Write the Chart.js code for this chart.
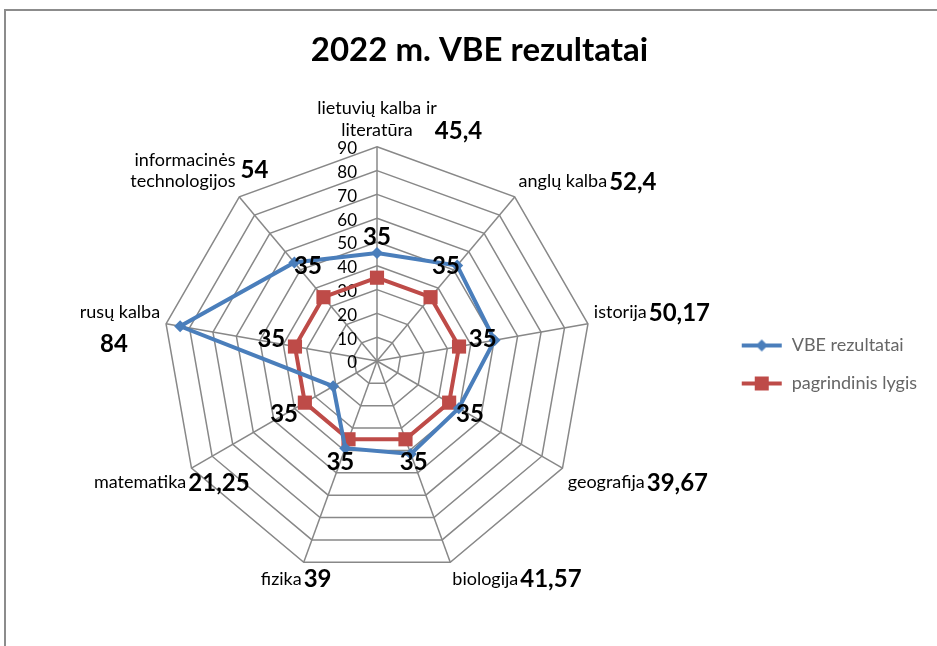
<!DOCTYPE html>
<html>
<head>
<meta charset="utf-8">
<script src="https://cdn.jsdelivr.net/npm/chart.js@4/dist/chart.umd.min.js"></script>
<style>
  html, body { margin: 0; padding: 0; background: #fff; overflow: hidden; }
  #wrap { position: relative; width: 937px; height: 646px; }
  #frame { position: absolute; left: 4px; top: 9px; width: 960px; height: 700px; border: 2px solid #8c8c8c; box-sizing: border-box; }
  #chart { position: absolute; left: 0; top: 0; }
</style>
</head>
<body>
<div id="wrap">
  <div id="frame"></div>
  <canvas id="chart" width="937" height="646"></canvas>
</div>
<script>
const categories = [
  ["lietuvių kalba ir", "literatūra"],
  "anglų kalba",
  "istorija",
  "geografija",
  "biologija",
  "fizika",
  "matematika",
  "rusų kalba",
  ["informacinės", "technologijos"]
];
const vbeResults = [45.4, 52.4, 50.17, 39.67, 41.57, 39, 21.25, 84, 54];
const baseLevel = [35, 35, 35, 35, 35, 35, 35, 35, 35];
const tickValues = [0, 10, 20, 30, 40, 50, 60, 70, 80, 90];

const FONT = "Lato, 'Open Sans', sans-serif";
const BLUE = "#4a7ebb";
const RED = "#be4b48";

// legend markers: line + marker
function legendIcon(color, shape) {
  const c = document.createElement("canvas");
  c.width = 42; c.height = 18;
  const g = c.getContext("2d");
  g.strokeStyle = color; g.lineWidth = 4;
  g.beginPath(); g.moveTo(1, 9); g.lineTo(41, 9); g.stroke();
  g.fillStyle = color;
  g.beginPath();
  if (shape === "diamond") {
    g.moveTo(21, 3); g.lineTo(27, 9); g.lineTo(21, 15); g.lineTo(15, 9);
  } else {
    g.rect(14, 2, 14, 14);
  }
  g.closePath(); g.fill();
  return c;
}

const fmt = v => String(v).replace(".", ",");

const labelPlugin = {
  id: "labelPlugin",
  beforeDatasetsDraw(chart) {
    const s = chart.scales.r;
    const ctx = chart.ctx;
    ctx.save();
    ctx.font = "17px " + FONT;
    ctx.fillStyle = "#000";
    ctx.textAlign = "right";
    ctx.textBaseline = "middle";
    tickValues.forEach(v => {
      const d = s.getDistanceFromCenterForValue(v);
      ctx.fillText(String(v), s.xCenter - 20, s.yCenter - d + 2);
    });
    ctx.restore();
  },
  afterDatasetsDraw(chart) {
    const s = chart.scales.r;
    const ctx = chart.ctx;
    ctx.save();
    ctx.font = "bold 24px " + FONT;
    ctx.fillStyle = "#000";
    ctx.textBaseline = "middle";
    // base level labels, pushed outward (and a bit up on the upper half)
    ctx.textAlign = "center";
    baseLevel.forEach((v, i) => {
      const p = s.getPointPosition(i, s.getDistanceFromCenterForValue(v));
      const u = s.getPointPosition(i, 1);
      const ux = u.x - s.xCenter, uy = u.y - s.yCenter;
      const up = Math.max(0, -uy) * 16;
      ctx.fillText(fmt(v), p.x + ux * 24, p.y + uy * 24 - up);
    });
    // VBE values next to the category names
    const items = s._pointLabelItems || [];
    vbeResults.forEach((v, i) => {
      const it = items[i];
      if (!it) return;
      let x, y;
      ctx.textAlign = "left";
      if (i === 0) { x = it.right - 2; y = it.bottom - 10; }
      else if (i === 7) { ctx.textAlign = "center"; x = (it.left + it.right) / 2 - 6; y = it.bottom + 22; }
      else if (i === 8) { x = it.right + 5; y = (it.top + it.bottom) / 2; }
      else { x = it.right + 2; y = (it.top + it.bottom) / 2 + 1; }
      ctx.fillText(fmt(v), x, y);
    });
    ctx.restore();
  }
};

new Chart(document.getElementById("chart"), {
  type: "radar",
  data: {
    labels: categories,
    datasets: [
      {
        label: "VBE rezultatai",
        data: vbeResults,
        borderColor: BLUE,
        backgroundColor: BLUE,
        borderWidth: 4,
        fill: false,
        pointStyle: "rectRot",
        pointRadius: 6,
        pointBackgroundColor: BLUE,
        pointBorderWidth: 0
      },
      {
        label: "pagrindinis lygis",
        data: baseLevel,
        borderColor: RED,
        backgroundColor: RED,
        borderWidth: 4,
        fill: false,
        pointStyle: "rect",
        pointRadius: 10,
        pointBackgroundColor: RED,
        pointBorderWidth: 0
      }
    ]
  },
  options: {
    responsive: false,
    animation: false,
    layout: { padding: { left: 32, right: 10, top: 0, bottom: 39 } },
    plugins: {
      title: {
        display: true,
        text: "2022 m. VBE rezultatai",
        color: "#000",
        font: { family: FONT, size: 33, weight: "bold" },
        padding: { top: 31, bottom: 8 }
      },
      legend: {
        position: "right",
        title: {
          display: true,
          text: " ",
          font: { family: FONT, size: 10 },
          padding: { top: 110, bottom: 0 }
        },
        labels: {
          color: "#000",
          font: { family: FONT, size: 18 },
          usePointStyle: true,
          pointStyleWidth: 42,
          padding: 20,
          generateLabels(chart) {
            return chart.data.datasets.map((ds, i) => ({
              text: ds.label,
              pointStyle: legendIcon(ds.borderColor, i === 0 ? "diamond" : "square"),
              datasetIndex: i,
              fillStyle: ds.borderColor,
              strokeStyle: ds.borderColor,
              lineWidth: 0,
              hidden: false
            }));
          }
        }
      },
      tooltip: { enabled: false }
    },
    scales: {
      r: {
        min: 0,
        max: 90,
        ticks: { stepSize: 10, display: false },
        grid: { color: "#888", lineWidth: 1.5 },
        angleLines: { color: "#888", lineWidth: 1.5 },
        pointLabels: {
          color: "#000",
          font: { family: FONT, size: 18 },
          padding: 6
        }
      }
    }
  },
  plugins: [labelPlugin]
});
</script>
</body>
</html>
